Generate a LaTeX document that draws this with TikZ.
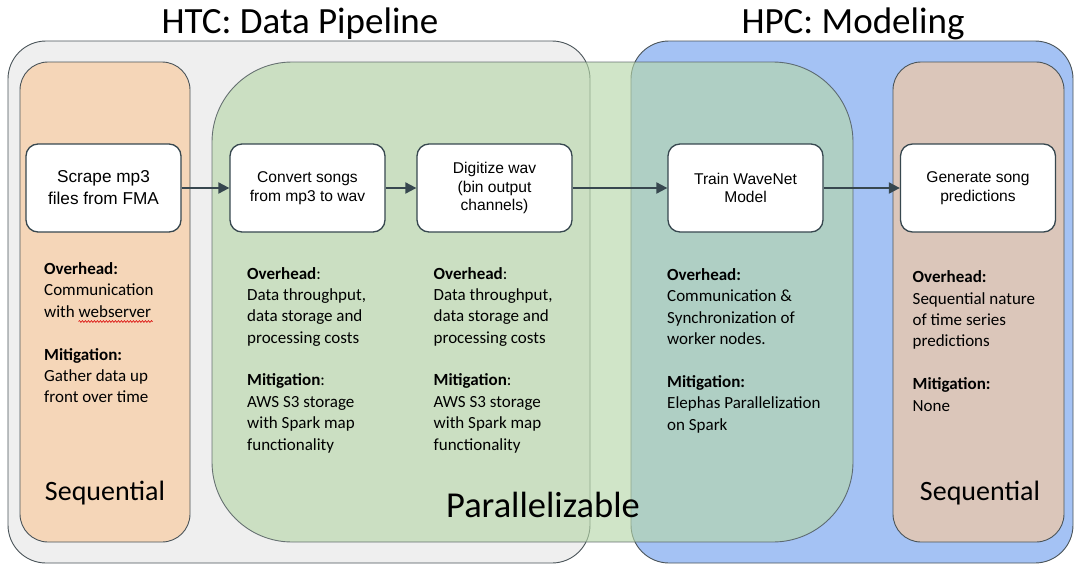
\documentclass[tikz,border=0pt]{standalone}
\usepackage{fontspec}
\setmainfont{Carlito}
\newfontfamily\arialfont{Liberation Sans}
\usetikzlibrary{arrows.meta,decorations.pathmorphing}

\definecolor{htcgray}{HTML}{EFEFEF}
\definecolor{hpcblue}{HTML}{A4C2F4}
\definecolor{seqorange}{HTML}{F5D6B8}
\definecolor{seqbrown}{HTML}{DBC6BA}
\definecolor{pargreen}{HTML}{B6D7A8}
\definecolor{edgegray}{HTML}{4A5459}
\definecolor{flowgray}{HTML}{37474F}

\begin{document}
\begin{tikzpicture}[x=1pt,y=-1pt,
    region/.style={draw=edgegray,line width=0.9pt},
    stepbox/.style={draw=flowgray,line width=1.3pt,fill=white,rounded corners=12pt,
        minimum width=155pt,minimum height=88pt,inner sep=0pt,align=center,
        font=\arialfont\fontsize{15.6}{18.7}\selectfont},
    notes/.style={anchor=base west,align=left,inner sep=0pt,
        font=\fontsize{17}{21.35}\selectfont},
    flow/.style={draw=flowgray,line width=2pt,-{Triangle[length=11pt,width=11pt]}},
    heading/.style={anchor=base,inner sep=0pt,font=\fontsize{37}{44}\selectfont},
    kind/.style={anchor=base,inner sep=0pt,font=\fontsize{28}{34}\selectfont}]
    \useasboundingbox[fill=white](0,0) rectangle (1080,576);

    % HTC and HPC regions
    \draw[region,fill=htcgray,rounded corners=38pt](8,41) rectangle (590,563);
    \draw[region,fill=hpcblue,rounded corners=38pt](631,41) rectangle (1073,563);
    \draw[region,fill=seqorange,rounded corners=28pt](20,62) rectangle (190,542);
    \draw[region,fill=seqbrown,rounded corners=28pt](893,62) rectangle (1064,542);
    \draw[region,fill=pargreen,fill opacity=0.63,draw opacity=0.8,rounded corners=80pt](212,62) rectangle (853,542);

    \node[heading](htc) at (300,33){HTC: Data Pipeline};
    \node[heading](hpc) at (853,33){HPC: Modeling};
    \node[kind](seqleft) at (105,500){Sequential};
    \node[kind](seqright) at (980,500){Sequential};
    \node[heading,font=\fontsize{36.5}{44}\selectfont](par) at (543,517){Parallelizable};

    % pipeline steps
    \node[stepbox,font=\arialfont\fontsize{17.2}{22}\selectfont](scrape) at (103.5,188){Scrape mp3\\files from FMA};
    \node[stepbox](convert) at (307.5,188){Convert songs\\from mp3 to wav};
    \node[stepbox](digitize) at (494.5,188){Digitize wav\\(bin output\\channels)};
    \node[stepbox](train) at (745.5,188){Train WaveNet\\Model};
    \node[stepbox](generate) at (978,188){Generate song\\predictions};

    \draw[flow](scrape)--(convert);
    \draw[flow](convert)--(digitize);
    \draw[flow](digitize)--(train);
    \draw[flow](train)--(generate);

    % overhead and mitigation notes (placed by their last baseline)
    \node[notes](scrapenote) at (44,402.7){\textbf{Overhead:}\\Communication\\with webserver\\[21.35pt]\textbf{Mitigation:}\\Gather data up\\front over time};
    \draw[red!85!black,line width=0.6pt,decorate,decoration={snake,amplitude=0.9pt,segment length=3pt}](78.5,321.5)--(152.5,321.5);
    \node[notes](convertnote) at (247,450){\textbf{Overhead}:\\Data throughput,\\data storage and\\processing costs\\[21.35pt]\textbf{Mitigation}:\\AWS S3 storage\\with Spark map\\functionality};
    \node[notes](digitizenote) at (433.5,450){\textbf{Overhead}:\\Data throughput,\\data storage and\\processing costs\\[21.35pt]\textbf{Mitigation}:\\AWS S3 storage\\with Spark map\\functionality};
    \node[notes](trainnote) at (667,430){\textbf{Overhead:}\\Communication \&\\Synchronization of\\worker nodes.\\[21.35pt]\textbf{Mitigation:}\\Elephas Parallelization\\on Spark};
    \node[notes](generatenote) at (912.5,411){\textbf{Overhead:}\\Sequential nature\\of time series\\predictions\\[21.35pt]\textbf{Mitigation:}\\None};
\end{tikzpicture}
\end{document}
